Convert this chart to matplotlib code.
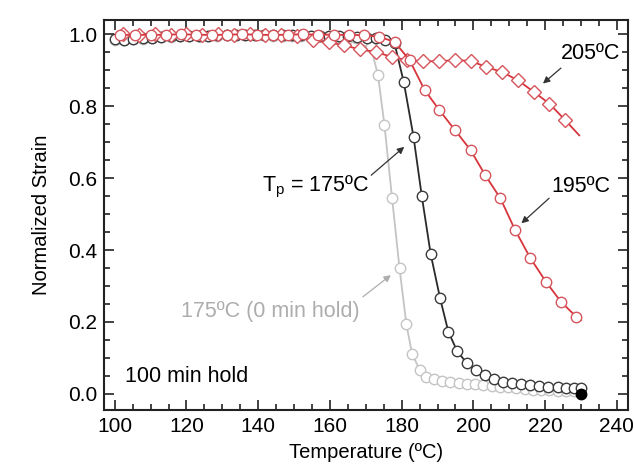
import matplotlib
matplotlib.use("Agg")
import matplotlib.pyplot as plt
from matplotlib.ticker import MultipleLocator

plt.rcParams['font.family'] = ['Liberation Sans', 'DejaVu Sans']

# 175 C, 0 min hold (light grey)
gray_x = [100.0, 102.6, 105.2, 107.8, 110.4, 113.0, 115.6, 118.2, 120.8, 123.4,
          126.0, 128.6, 131.2, 133.8, 136.4, 139.0, 141.6, 144.2, 146.8, 149.4,
          152.0, 154.6, 157.2, 159.8, 162.4, 165.0, 167.4, 169.4, 171.4, 173.4,
          175.2, 177.3, 179.4, 181.3, 182.9, 185.0, 186.8, 189.0, 191.3, 193.6,
          195.9, 198.2, 200.5, 202.8, 205.1, 207.4, 209.7, 212.0, 214.3, 216.6,
          218.9, 221.2, 223.5, 225.8, 228.1]
gray_y = [0.985, 0.984, 0.986, 0.988, 0.990, 0.992, 0.993, 0.994, 0.995, 0.995,
          0.996, 0.996, 0.997, 0.997, 0.997, 0.997, 0.997, 0.996, 0.996, 0.995,
          0.995, 0.994, 0.994, 0.993, 0.992, 0.991, 0.989, 0.984, 0.965, 0.886,
          0.747, 0.546, 0.349, 0.194, 0.111, 0.067, 0.048, 0.042, 0.037, 0.033,
          0.030, 0.028, 0.026, 0.024, 0.022, 0.020, 0.018, 0.016, 0.014, 0.012,
          0.011, 0.010, 0.009, 0.008, 0.007]

# Tp = 175 C, 100 min hold (black)
black_x = [100.0, 102.6, 105.2, 107.8, 110.4, 113.0, 115.6, 118.2, 120.8, 123.4,
           126.0, 128.6, 131.2, 133.8, 136.4, 139.0, 141.6, 144.2, 146.8, 149.4,
           152.0, 154.6, 157.2, 159.8, 162.4, 165.0, 167.6, 170.2, 172.8, 175.4,
           178.0, 180.6, 183.3, 185.6, 188.1, 190.7, 193.0, 195.5, 198.2, 200.8,
           203.3, 205.8, 208.3, 210.8, 213.3, 215.8, 218.4, 220.9, 223.5, 225.8,
           228.0, 230.0]
black_y = [0.986, 0.985, 0.987, 0.989, 0.991, 0.993, 0.994, 0.995, 0.995, 0.996,
           0.996, 0.997, 0.997, 0.997, 0.998, 0.998, 0.998, 0.998, 0.998, 0.997,
           0.997, 0.996, 0.996, 0.995, 0.995, 0.994, 0.993, 0.991, 0.989, 0.985,
           0.975, 0.866, 0.715, 0.550, 0.388, 0.266, 0.173, 0.118, 0.085, 0.067,
           0.053, 0.042, 0.034, 0.030, 0.027, 0.025, 0.023, 0.020, 0.018, 0.016,
           0.015, 0.015]
end_x = [230.0]
end_y = [0.0]

# 195 C (red circles); last point is line end only
red_x = [101.5, 105.75, 110.0, 114.25, 118.5, 122.75, 127.0, 131.25, 135.5, 139.75,
         144.0, 148.25, 152.5, 156.75, 161.0, 165.25, 169.5, 173.75, 178.0, 182.2,
         186.4, 190.5, 194.9, 199.2, 203.3, 207.5, 211.6, 215.9, 220.2, 224.4,
         228.6, 230.0]
red_y = [0.998, 0.999, 0.998, 0.999, 1.000, 0.999, 0.998, 0.999, 1.000, 0.999,
         0.998, 0.999, 1.000, 0.999, 0.999, 0.998, 0.998, 0.993, 0.979, 0.928,
         0.845, 0.789, 0.733, 0.678, 0.608, 0.544, 0.456, 0.377, 0.312, 0.256,
         0.215, 0.205]

# 205 C (red diamonds); last point is line end only
dia_x = [102.4, 106.8, 111.2, 115.6, 120.0, 124.4, 128.8, 133.2, 137.6, 142.0,
         146.4, 150.8, 155.2, 159.6, 164.0, 168.4, 172.8, 177.2, 181.6, 186.0,
         190.4, 194.8, 199.2, 203.6, 208.0, 212.4, 216.8, 221.2, 225.6, 229.5]
dia_y = [1.000, 0.999, 1.000, 0.999, 1.000, 0.999, 1.000, 0.999, 1.000, 0.999,
         0.998, 0.995, 0.983, 0.978, 0.969, 0.958, 0.951, 0.937, 0.928, 0.925,
         0.925, 0.928, 0.926, 0.909, 0.895, 0.872, 0.840, 0.807, 0.761, 0.719]

GRAY = '#c4c4c4'
BLACK = '#2a2a2a'
RED = '#d8343c'
FS = 15.5

fig = plt.figure(figsize=(6.34, 4.74), dpi=100)
ax = fig.add_axes([0.164, 0.135, 0.826, 0.823])

ax.plot(gray_x, gray_y, '-', color=GRAY, lw=1.3, marker='o', ms=7.5,
        mfc='white', mec=GRAY, mew=1.0, zorder=2)
ax.plot(black_x, black_y, '-', color=BLACK, lw=1.3, marker='o', ms=7.5,
        mfc='white', mec='#3a3a3a', mew=1.0, zorder=3)
ax.plot(end_x, end_y, 'o', color='black', ms=7.5, zorder=3)
ax.plot(dia_x, dia_y, '-', color=RED, lw=1.3, marker='D', ms=7,
        mfc='white', mec='#d5555c', mew=1.0, markevery=list(range(len(dia_x) - 1)),
        zorder=4)
ax.plot(red_x, red_y, '-', color=RED, lw=1.3, marker='o', ms=7.5,
        mfc='white', mec='#d5555c', mew=1.0, markevery=list(range(len(red_x) - 1)),
        zorder=5)

ax.set_xlim(97, 243)
ax.set_ylim(-0.045, 1.04)
ax.xaxis.set_major_locator(MultipleLocator(20))
ax.xaxis.set_minor_locator(MultipleLocator(5))
ax.yaxis.set_minor_locator(MultipleLocator(0.05))
ax.set_yticks([0.0, 0.2, 0.4, 0.6, 0.8, 1.0])
ax.set_yticklabels(['0.0', '0.2', '0.4', '0.6', '0.8', '1.0'])
ax.tick_params(which='both', direction='in', top=True, right=True, width=1.2,
               labelsize=15, color='#222222')
ax.tick_params(which='major', length=7, pad=5)
ax.tick_params(which='minor', length=4)
for s in ax.spines.values():
    s.set_linewidth(1.5)
    s.set_color('#222222')

ax.set_xlabel('Temperature (ºC)', fontsize=14.5, labelpad=5)
ax.set_ylabel('Normalized Strain', fontsize=14.5, labelpad=12)

arrow_k = dict(arrowstyle='-|>', lw=0.9, mutation_scale=10, shrinkA=0, shrinkB=2)

ax.text(241.0, 0.947, '205ºC', fontsize=FS, ha='right', va='center')
ax.annotate('', xy=(218.8, 0.858), xytext=(224.4, 0.906),
            arrowprops=dict(color='#333333', **arrow_k))
ax.text(230.0, 0.578, '195ºC', fontsize=FS, ha='center', va='center')
ax.annotate('', xy=(212.8, 0.469), xytext=(221.1, 0.544),
            arrowprops=dict(color='#333333', **arrow_k))
ax.text(171.0, 0.576, r'T$_\mathregular{p}$ = 175ºC', fontsize=FS, ha='right',
        va='center')
ax.annotate('', xy=(181.3, 0.692), xytext=(171.5, 0.608),
            arrowprops=dict(color='#333333', **arrow_k))
ax.text(118.6, 0.229, '175ºC (0 min hold)', fontsize=FS, ha='left', va='center',
        color='#adadad')
ax.annotate('', xy=(177.6, 0.335), xytext=(169.2, 0.270),
            arrowprops=dict(color='#adadad', **arrow_k))
ax.text(102.9, 0.048, '100 min hold', fontsize=FS, ha='left', va='center')

fig.savefig('out.png', dpi=100)
